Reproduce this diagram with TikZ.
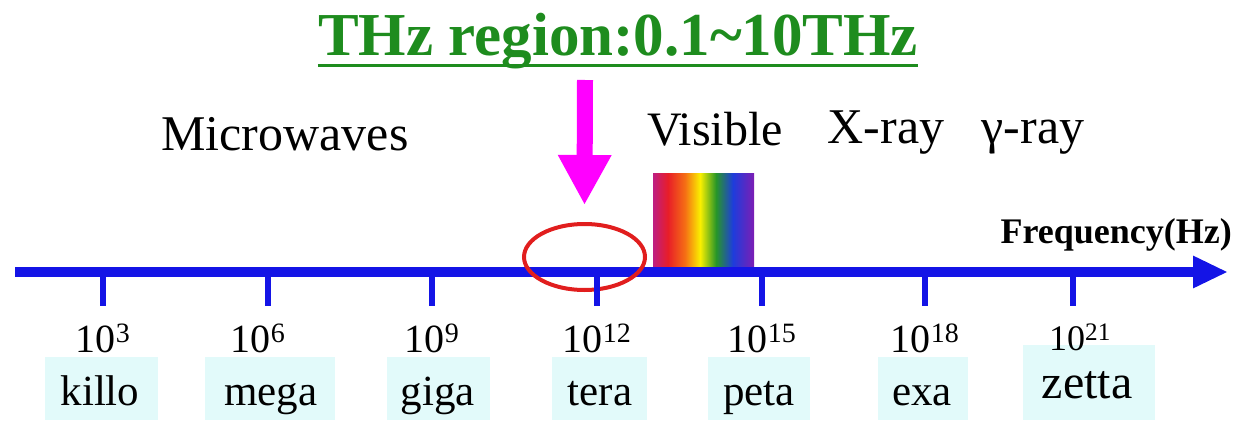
\documentclass[tikz,border=0pt]{standalone}
\usepackage{fontspec}
\setmainfont{Liberation Serif}
\usetikzlibrary{arrows.meta,shapes.geometric,calc}

\definecolor{axisblue}{RGB}{20,20,230}
\definecolor{titlegreen}{RGB}{30,140,30}
\definecolor{thzpink}{RGB}{255,0,255}
\definecolor{ringred}{RGB}{225,30,30}
\definecolor{boxcyan}{RGB}{226,250,250}
\definecolor{sp0}{RGB}{190,30,130}
\definecolor{sp1}{RGB}{232,30,40}
\definecolor{sp2}{RGB}{245,110,20}
\definecolor{sp3}{RGB}{250,240,0}
\definecolor{sp4}{RGB}{40,150,40}
\definecolor{sp5}{RGB}{30,60,220}
\definecolor{sp6}{RGB}{125,30,180}

% visible-light spectrum, stops placed in the central 25bp..75bp band
\pgfdeclarehorizontalshading{spectrum}{100bp}{%
  color(0bp)=(sp0); color(25bp)=(sp0); color(32.4bp)=(sp1);
  color(40.8bp)=(sp2); color(48.3bp)=(sp3); color(56.2bp)=(sp4);
  color(64.6bp)=(sp5); color(75bp)=(sp6); color(100bp)=(sp6)}

\begin{document}
\begin{tikzpicture}[x=1pt,y=-1pt,
  bandlabel/.style={anchor=base,inner sep=0pt,font=\fontsize{50}{60}\selectfont},
  powlabel/.style={anchor=base,inner sep=0pt,font=\fontsize{40}{48}\selectfont},
  prefixbox/.style={fill=boxcyan,inner sep=0pt,minimum height=63pt},
  prefixtext/.style={anchor=base,inner sep=0pt,font=\fontsize{43}{52}\selectfont},
  tickmark/.style={draw=axisblue,line width=6pt},
]
\useasboundingbox (0,0) rectangle (1235,423);

% title with underline
\node[anchor=base,inner sep=0pt,text=titlegreen,
      font=\bfseries\fontsize{61}{72}\selectfont] (title) at (618,55)
  {THz region:0.1\textasciitilde10THz};
\draw[titlegreen,line width=3pt]
  ($(title.base west)+(0,10)$) -- ($(title.base east)+(0,10)$);

% band names
\node[bandlabel] (micro) at (285,150) {Microwaves};
\node[bandlabel,font=\fontsize{48}{58}\selectfont] (vislabel) at (715,145) {Visible};
\node[bandlabel] (xray) at (886,143) {X-ray};
\node[bandlabel] (gamma) at (1033,143) {γ-ray};

% visible spectrum block
\node[shade,shading=spectrum,inner sep=0pt,minimum width=101pt,
      minimum height=95pt] (spectrum) at (703.5,220.5) {};

% frequency axis
\coordinate (axstart) at (15,272);
\coordinate (axend) at (1228,272);
\draw[axisblue,line width=10pt,-{Triangle[length=35pt,width=30pt]}]
  (axstart) -- (axend);
\node[anchor=base east,inner sep=0pt,font=\bfseries\fontsize{36}{44}\selectfont]
  (freq) at (1232,243) {Frequency(Hz)};

% THz marker ring and pointer
\node[draw=ringred,line width=4pt,ellipse,inner sep=0pt,
      minimum width=121pt,minimum height=66pt] (thz) at (584.5,257) {};
\coordinate (pointertop) at (585,80);
\draw[thzpink,line width=16pt,-{Triangle[length=50pt,width=50pt]}]
  (pointertop) -- ([yshift=17pt]thz.north);

% ticks, powers of ten and prefixes
\foreach \name/\x in {t3/103,t6/268,t9/432,t12/597,t15/762,t18/925,t21/1073}{
  \coordinate (\name) at (\x,272);
  \draw[tickmark] (\name) -- ++(0,34);
}
\node[powlabel] (p3)  at (103,352) {10\textsuperscript{3}};
\node[powlabel] (p6)  at (258,352) {10\textsuperscript{6}};
\node[powlabel] (p9)  at (432,352) {10\textsuperscript{9}};
\node[powlabel] (p12) at (597,352) {10\textsuperscript{12}};
\node[powlabel] (p15) at (762,352) {10\textsuperscript{15}};
\node[powlabel] (p18) at (925,352) {10\textsuperscript{18}};

\node[prefixbox,minimum width=113pt] (bk) at (101.5,388.5) {};
\node[prefixbox,minimum width=130pt] (bm) at (270,388.5) {};
\node[prefixbox,minimum width=103pt] (bg) at (438.5,388.5) {};
\node[prefixbox,minimum width=95pt]  (bt) at (599.5,388.5) {};
\node[prefixbox,minimum width=102pt] (bp) at (759,388.5) {};
\node[prefixbox,minimum width=90pt]  (be) at (923,388.5) {};
\node[prefixbox,minimum width=132pt,minimum height=75pt] (bz) at (1089,382.5) {};

\node[powlabel,font=\fontsize{36}{44}\selectfont] (p21) at (1080,350) {10\textsuperscript{21}};

\node[prefixtext] (kilo)  at (100,405) {killo};
\node[prefixtext] (mega)  at (271,405) {mega};
\node[prefixtext] (giga)  at (438,405) {giga};
\node[prefixtext] (tera)  at (600,405) {tera};
\node[prefixtext] (peta)  at (759,405) {peta};
\node[prefixtext] (exa)   at (922,405) {exa};
\node[prefixtext,font=\fontsize{48}{56}\selectfont] (zetta) at (1087,398) {zetta};
\end{tikzpicture}
\end{document}
